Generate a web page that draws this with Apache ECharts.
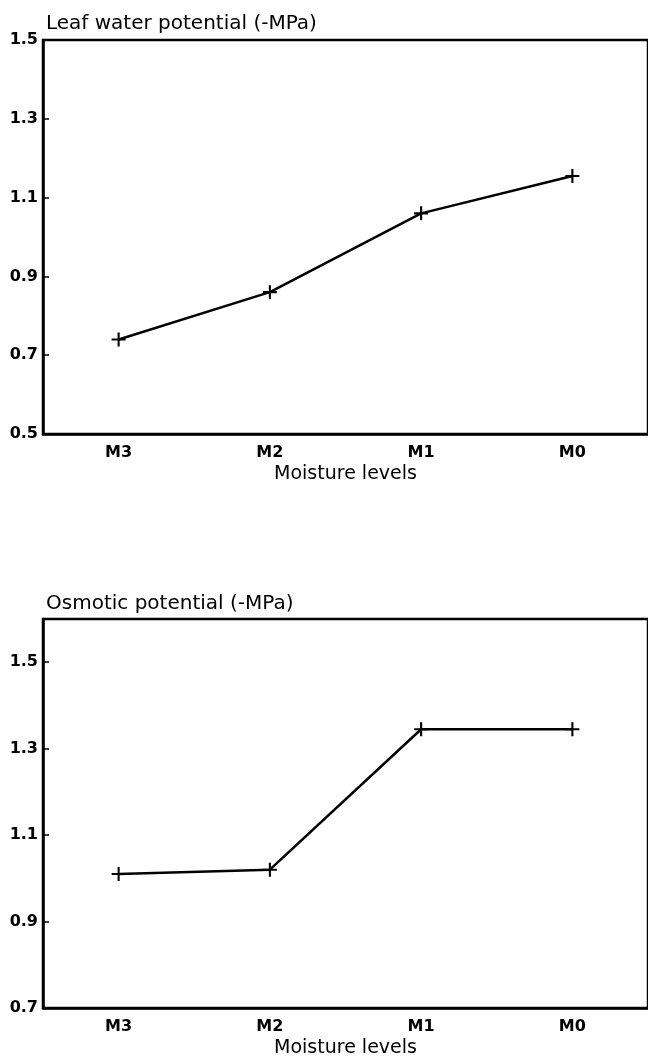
<!DOCTYPE html>
<html>
<head>
<meta charset="utf-8">
<script src="https://cdn.jsdelivr.net/npm/echarts@6/dist/echarts.min.js"></script>
<style>
html,body{margin:0;padding:0;background:#fff;}
#c{width:648px;height:1063px;}
</style>
</head>
<body>
<div id="c"></div>
<script>
var categories = ['M3', 'M2', 'M1', 'M0'];
var leafWaterPotential = [0.74, 0.86, 1.06, 1.155];
var osmoticPotential = [1.01, 1.02, 1.345, 1.345];
var leafTicks = [0.5, 0.7, 0.9, 1.1, 1.3, 1.5];
var osmoticTicks = [0.7, 0.9, 1.1, 1.3, 1.5];
var leafTitle = 'Leaf water potential (-MPa)';
var osmoticTitle = 'Osmotic potential (-MPa)';
var xTitle = 'Moisture levels';

var FONT = '"DejaVu Sans", "Liberation Sans", Arial, sans-serif';
var plus = 'path://M8.5,0H11.5V8.5H20V11.5H11.5V20H8.5V11.5H0V8.5H8.5Z';

function xAxisDef(gi) {
  return {
    type: 'category', gridIndex: gi, data: categories,
    boundaryGap: true,
    axisLine: {lineStyle: {color: '#000', width: 2.5}},
    axisTick: {inside: true, alignWithLabel: true, length: 6, lineStyle: {color: '#000', width: 1.5}},
    axisLabel: {color: '#000', fontFamily: FONT, fontSize: 16, fontWeight: 'bold', margin: 11},
    name: xTitle, nameLocation: 'middle', nameGap: 31,
    nameTextStyle: {color: '#000', fontFamily: FONT, fontSize: 19}
  };
}
function yAxisDef(gi, min, max, ticks) {
  return {
    type: 'value', gridIndex: gi, min: min, max: max, interval: 0.1,
    splitLine: {show: false},
    axisLine: {show: true, lineStyle: {color: '#000', width: 2.5}},
    axisTick: {show: true, inside: true, length: 6, customValues: ticks, lineStyle: {color: '#000', width: 1.5}},
    axisLabel: {color: '#000', fontFamily: FONT, fontSize: 16, fontWeight: 'bold', margin: 5,
      customValues: ticks, formatter: function (v) { return v.toFixed(1); }}
  };
}
function seriesDef(gi, data) {
  return {
    type: 'line', xAxisIndex: gi, yAxisIndex: gi, data: data,
    symbol: plus, symbolSize: 14,
    itemStyle: {color: '#000'},
    lineStyle: {color: '#000', width: 2.5},
    animation: false
  };
}

var chart = echarts.init(document.getElementById('c'), null, {renderer: 'canvas'});
chart.setOption({
  backgroundColor: '#fff',
  animation: false,
  title: [
    {text: leafTitle, left: 41, top: 9, textStyle: {color: '#000', fontFamily: FONT, fontSize: 20, fontWeight: 'normal'}},
    {text: osmoticTitle, left: 41, top: 589, textStyle: {color: '#000', fontFamily: FONT, fontSize: 20, fontWeight: 'normal'}}
  ],
  grid: [
    {left: 43, top: 40, width: 611, height: 394, show: true, borderColor: '#000', borderWidth: 2.5, backgroundColor: 'transparent'},
    {left: 43, top: 619, width: 611, height: 389, show: true, borderColor: '#000', borderWidth: 2.5, backgroundColor: 'transparent'}
  ],
  xAxis: [xAxisDef(0), xAxisDef(1)],
  yAxis: [yAxisDef(0, 0.5, 1.5, leafTicks), yAxisDef(1, 0.7, 1.6, osmoticTicks)],
  series: [seriesDef(0, leafWaterPotential), seriesDef(1, osmoticPotential)]
});
</script>
</body>
</html>
